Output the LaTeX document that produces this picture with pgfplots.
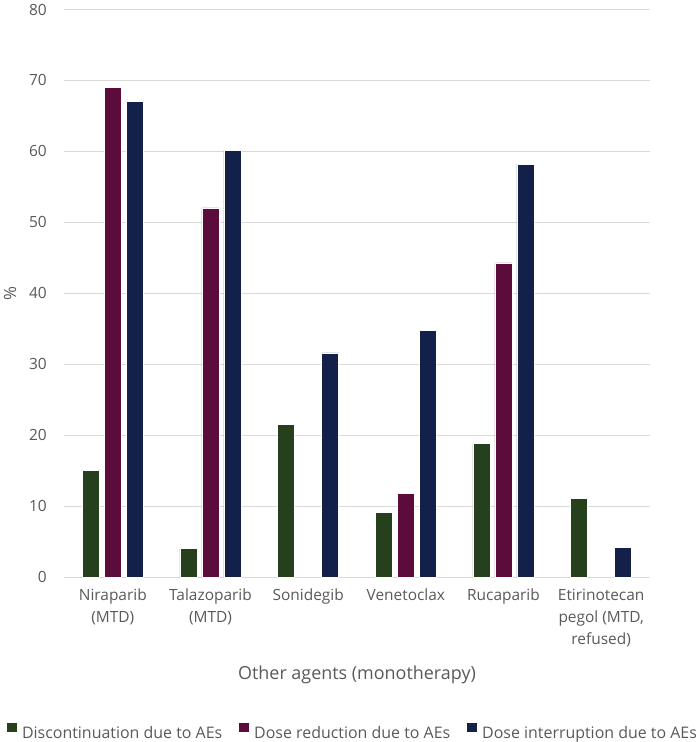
\documentclass[border=0pt]{standalone}
\usepackage{pgfplots}
\pgfplotsset{compat=1.18}
\usepackage{fontspec}
\setmainfont{Open Sans}
\definecolor{cgreen}{RGB}{38,64,30}
\definecolor{cmag}{RGB}{92,12,58}
\definecolor{cnavy}{RGB}{19,32,74}
\definecolor{txt}{RGB}{89,89,89}
\definecolor{gridc}{RGB}{217,217,217}
\begin{document}
\begin{tikzpicture}
\useasboundingbox (-64bp,-165bp) rectangle (635bp,577bp);
\begin{axis}[
  at={(0,0)}, anchor=south west,
  scale only axis, width=586bp, height=567.5bp,
  ymin=0, ymax=80, ytick={0,10,...,80},
  xmin=-0.5, xmax=5.5, xtick={0,1,2,3,4,5},
  xticklabels={{Niraparib\\(MTD)}, {Talazoparib\\(MTD)}, Sonidegib, Venetoclax, Rucaparib, {Etirinotecan\\pegol (MTD,\\refused)}},
  ybar=5bp, bar width=17bp,
  ymajorgrids, grid style={gridc, line width=1bp},
  axis line style={draw=none}, major tick length=0pt,
  /pgf/number format/assume math mode=true,
  tick label style={font=\fontsize{15.5}{22}\selectfont, text=txt, inner sep=0pt},
  xticklabel style={align=center, anchor=north, yshift=-12bp},
  yticklabel style={anchor=east, xshift=-17bp},
  ylabel={\%},
  ylabel style={at={(axis description cs:-0.092,0.5)}, anchor=center, font=\fontsize{17}{18}\selectfont, text=txt},
  xlabel={Other agents (monotherapy)},
  xlabel style={at={(axis description cs:0.5,-0.1727)}, anchor=center, font=\fontsize{18}{20}\selectfont, text=txt},
  legend style={at={(axis description cs:0.4906,-0.2714)}, anchor=center, draw=none, fill=none,
    legend columns=-1, font=\fontsize{16}{18}\selectfont, text=txt,
    nodes={inner sep=0pt},
    /tikz/every odd column/.style={column sep=5bp},
    /tikz/every even column/.style={column sep=16bp}},
  legend image code/.code={\fill[#1] (0bp,0.5bp) rectangle (10.5bp,11bp);},
]
\addplot[fill=cgreen, draw=white, line width=0.5bp] coordinates {(0,15.0) (1,4.0) (2,21.5) (3,9.1) (4,18.8) (5,11.1)};
\addplot[fill=cmag, draw=white, line width=0.5bp] coordinates {(0,69.0) (1,52.05) (3,11.8) (4,44.3)};
\addplot[fill=cnavy, draw=white, line width=0.5bp] coordinates {(0,67.0) (1,60.1) (2,31.6) (3,34.8) (4,58.2) (5,4.2)};
\legend{Discontinuation due to AEs, Dose reduction due to AEs, Dose interruption due to AEs}
\end{axis}
\end{tikzpicture}
\end{document}
